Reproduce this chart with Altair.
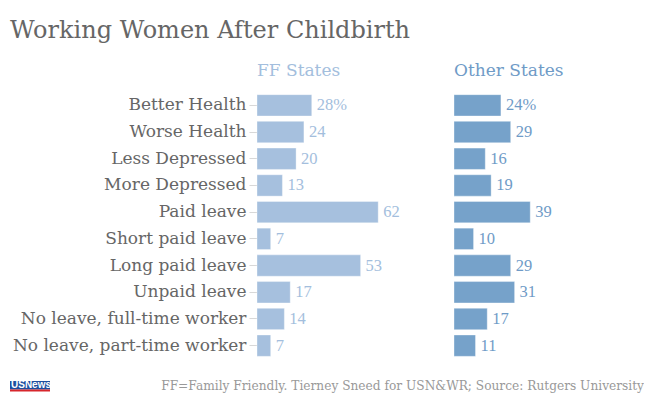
import altair as alt
import pandas as pd

categories = ["Better Health", "Worse Health", "Less Depressed", "More Depressed",
              "Paid leave", "Short paid leave", "Long paid leave", "Unpaid leave",
              "No leave, full-time worker", "No leave, part-time worker"]
ff_values = [28, 24, 20, 13, 62, 7, 53, 17, 14, 7]
other_values = [24, 29, 16, 19, 39, 10, 29, 31, 17, 11]
footer_note = ["FF=Family Friendly. Tierney Sneed for USN&WR; Source: Rutgers University"]
logo_text = ["USNews"]

df = pd.DataFrame({"cat": categories, "ff": ff_values, "other": other_values})
df["ff_label"] = [f"{v}%" if i == 0 else str(v) for i, v in enumerate(ff_values)]
df["other_label"] = [f"{v}%" if i == 0 else str(v) for i, v in enumerate(other_values)]

SERIF = "DejaVu Serif"
NUMFONT = "Liberation Serif"
PX = 1.955
H = 267
W1 = 180
W2 = 150

# footer position relative to the left panel's plot area (page x=257, y~91.6)
OX = 257
OY = 91.6


def panel(field, label, color, textcolor, width, show_axis):
    if show_axis:
        axis = alt.Axis(domain=False, ticks=True, tickColor="#d8d8d8", tickSize=8,
                        labelFont=SERIF, labelFontSize=17, labelColor="#666666",
                        labelPadding=3, labelLimit=0, title=None)
    else:
        axis = None
    y = alt.Y("cat:N", sort=categories,
              scale=alt.Scale(paddingInner=0.2, paddingOuter=0.1), axis=axis, title=None)
    x = alt.X(f"{field}:Q", scale=alt.Scale(domain=[0, width / PX], nice=False), axis=None)
    base = alt.Chart(df)
    bars = base.mark_bar(color=color, stroke="#ffffff", strokeOpacity=0.35, strokeWidth=1).encode(x=x, y=y)
    text = base.mark_text(align="left", baseline="middle", dx=5, font=NUMFONT,
                          fontSize=16.5, color=textcolor).encode(x=x, y=y, text=f"{label}:N")
    return bars, text


title_left = alt.TitleParams("FF States", anchor="start", frame="group", color="#a3bedd",
                             font=SERIF, fontSize=17, fontWeight="normal", offset=12)
title_right = alt.TitleParams("Other States", anchor="start", frame="group", color="#6f9bc7",
                              font=SERIF, fontSize=17, fontWeight="normal", offset=12)

lb, lt = panel("ff", "ff_label", "#a6c0de", "#a3bedd", W1, True)
rb, rt = panel("other", "other_label", "#76a2ca", "#6f9bc7", W2, False)

foot_df = pd.DataFrame({"t": footer_note})
logo_df = pd.DataFrame({"t": logo_text})
footer_text = alt.Chart(foot_df).mark_text(align="right", baseline="middle", font=SERIF,
                                           fontSize=12.2, color="#999999").encode(
    x=alt.value(644 - OX), y=alt.value(386 - OY), text="t:N")
logo_box = alt.Chart(logo_df).mark_rect(color="#1d4f9e").encode(
    x=alt.value(10 - OX), x2=alt.value(50 - OX), y=alt.value(380.5 - OY), y2=alt.value(389 - OY))
logo_red = alt.Chart(logo_df).mark_rect(color="#d7262c").encode(
    x=alt.value(10 - OX), x2=alt.value(50 - OX), y=alt.value(389 - OY), y2=alt.value(391 - OY))
logo_txt = alt.Chart(logo_df).mark_text(
    align="left", baseline="middle", font="Liberation Sans", fontWeight="bold",
    fontSize=10, color="white").encode(x=alt.value(11 - OX), y=alt.value(385 - OY), text="t:N")

left = alt.layer(lb, lt, logo_box, logo_red, logo_txt, footer_text).properties(
    width=W1, height=H, title=title_left)
right = alt.layer(rb, rt).properties(width=W2, height=H, title=title_right)

chart = alt.hconcat(left, right, spacing=17, bounds="flush").properties(
    padding={"left": 2, "top": 11, "right": 0, "bottom": 0},
    title=alt.TitleParams("Working Women After Childbirth", anchor="start", font=SERIF,
                          fontSize=24, fontWeight="normal", color="#666666", offset=19)
).configure_view(stroke=None)

chart.save("out.html", embed_options={"renderer": "svg", "actions": False})
